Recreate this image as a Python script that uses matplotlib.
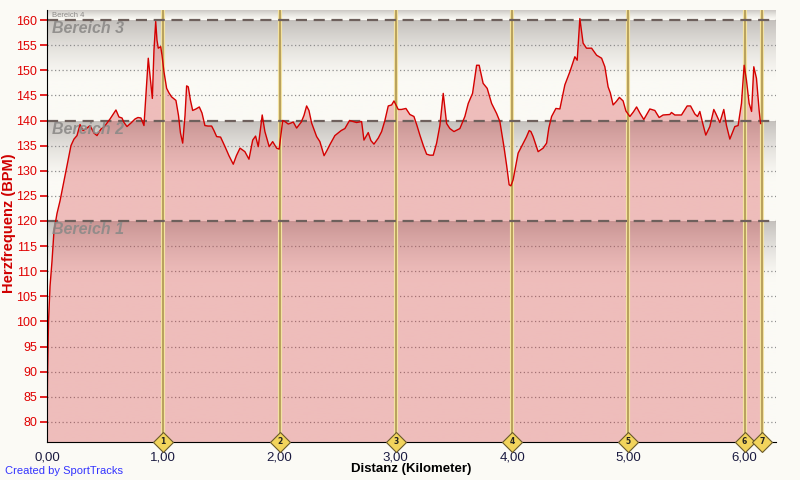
import matplotlib.pyplot as plt
import numpy as np

# Herzfrequenz ueber Distanz
dist = [0.000, 0.004, 0.013, 0.026, 0.043, 0.060, 0.086, 0.112, 0.138, 0.172,
        0.206, 0.232, 0.258, 0.284, 0.310, 0.344, 0.370, 0.404, 0.430, 0.464,
        0.490, 0.542, 0.576, 0.593, 0.619, 0.645, 0.662, 0.688, 0.722, 0.757,
        0.782, 0.808, 0.834, 0.856, 0.871, 0.886, 0.906, 0.920, 0.935, 0.946,
        0.957, 0.978, 0.989, 1.006, 1.029, 1.049, 1.072, 1.109, 1.131, 1.148,
        1.167, 1.187, 1.201, 1.215, 1.234, 1.253, 1.281, 1.310, 1.333, 1.358,
        1.384, 1.416, 1.436, 1.459, 1.493, 1.531, 1.565, 1.602, 1.629, 1.660,
        1.702, 1.737, 1.769, 1.794, 1.817, 1.851, 1.874, 1.911, 1.941, 1.975,
        1.997, 2.027, 2.046, 2.075, 2.098, 2.118, 2.147, 2.187, 2.210, 2.233,
        2.253, 2.276, 2.319, 2.347, 2.383, 2.407, 2.433, 2.476, 2.530, 2.562,
        2.602, 2.631, 2.663, 2.706, 2.726, 2.763, 2.786, 2.812, 2.849, 2.878,
        2.906, 2.935, 2.964, 2.984, 3.021, 3.048, 3.087, 3.121, 3.156, 3.182,
        3.207, 3.237, 3.265, 3.293, 3.322, 3.351, 3.379, 3.408, 3.437, 3.465,
        3.500, 3.551, 3.594, 3.623, 3.660, 3.695, 3.717, 3.751, 3.786, 3.824,
        3.867, 3.895, 3.930, 3.953, 3.975, 3.990, 4.009, 4.052, 4.096, 4.123,
        4.147, 4.162, 4.181, 4.224, 4.267, 4.297, 4.316, 4.340, 4.377, 4.411,
        4.454, 4.497, 4.540, 4.560, 4.583, 4.596, 4.611, 4.640, 4.684, 4.727,
        4.770, 4.798, 4.826, 4.845, 4.869, 4.897, 4.923, 4.955, 4.979, 5.013,
        5.043, 5.071, 5.099, 5.133, 5.185, 5.228, 5.265, 5.299, 5.357, 5.371,
        5.400, 5.457, 5.481, 5.506, 5.535, 5.572, 5.595, 5.615, 5.638, 5.666,
        5.701, 5.735, 5.752, 5.787, 5.821, 5.844, 5.873, 5.916, 5.944, 5.973,
        5.996, 6.016, 6.039, 6.060, 6.079, 6.102, 6.125, 6.137]
bpm = [78, 88, 100, 107, 112, 118, 121.5, 124, 127, 131,
       135, 136.3, 137, 139.2, 138, 138.5, 139, 137.5, 137, 138.3,
       138.7, 140.3, 141.5, 142.1, 140.7, 140.5, 139.6, 138.8, 139.5, 140.3,
       140.6, 140.5, 139, 147, 152.4, 149, 144.4, 154, 159.7, 156,
       154.4, 154.7, 153, 149.7, 146.4, 145.5, 144.7, 144.0, 141, 137.5,
       135.5, 141, 146.9, 146.7, 144, 142, 142.3, 142.7, 141.5, 139,
       138.9, 138.9, 138, 136.8, 136.7, 134.8, 133, 131.3, 133, 134.5,
       133.8, 132.3, 136.1, 136.9, 134.8, 141.1, 137.8, 134.8, 135.8, 134.5,
       134.3, 140, 139.8, 139.3, 139.5, 139.7, 138.5, 139.7, 141, 142.9,
       142, 139.5, 136.8, 135.8, 133, 134, 135.2, 137, 138, 138.4,
       140, 139.8, 139.6, 139.8, 136.1, 137.6, 136, 135.3, 136.5, 137.8,
       140, 142.9, 143.1, 143.9, 142.2, 142.2, 142.4, 141.2, 140.8, 139,
       137.1, 135, 133.3, 133.1, 133.1, 135.5, 139, 145.4, 139.4, 138.4,
       137.8, 138.4, 140.8, 143.4, 145.4, 151, 151, 147.4, 146.4, 143.4,
       141.4, 139.8, 134.8, 131.1, 127.2, 127.0, 128.2, 133.5, 135.5, 136.7,
       138, 137.8, 136.8, 133.8, 134.5, 135.5, 138.5, 140.8, 142.4, 142.3,
       147.1, 149.7, 152.7, 152, 160.3, 158, 155.4, 154.4, 154.4, 153,
       152.4, 150.7, 146.7, 145.5, 143.1, 143.8, 144.6, 143.9, 141.9, 140.8,
       141.7, 142.7, 141.5, 140.2, 142.3, 142, 140.6, 141.1, 141.2, 141.6,
       141.1, 141.1, 142, 142.9, 142.9, 141.3, 140.8, 141.8, 139.6, 137.1,
       138.8, 142.2, 141.4, 139.6, 142.2, 139, 136.3, 138.8, 139, 143.4,
       151, 148, 143.4, 141.8, 150.7, 148.4, 142, 139.4]

laps = [1.0, 2.0, 3.0, 4.0, 5.0, 6.0, 6.15]
zone_names = ['Bereich 1', 'Bereich 2', 'Bereich 3', 'Bereich 4']
zone_bounds = [76, 120, 140, 160, 162]

xmax = 6.27
bg = np.array([251, 250, 245]) / 255.0
gray = np.array([196, 192, 188]) / 255.0

fig = plt.figure(figsize=(8, 4.8), dpi=100, facecolor='#fbfaf5')
ax = fig.add_axes([47/800, 38/480, 729/800, 432/480])
ax.set_facecolor('#fbfaf5')
ax.set_xlim(0, xmax)
ax.set_ylim(76, 162)

# Farbverlauf je Bereich
for i in range(4):
    lo, hi = zone_bounds[i], zone_bounds[i + 1]
    n = 200
    y = np.linspace(hi, lo, n)
    span = 2.0 if i == 3 else 12.0
    t = np.clip((hi - y) / span, 0, 1)
    w = (1 - t) ** 1.4
    img = bg[None, :] + (gray - bg)[None, :] * w[:, None]
    img = img[:, None, :]
    ax.imshow(img, extent=[0, xmax, lo, hi], aspect='auto', zorder=0,
              interpolation='bilinear')

# Hilfslinien
for v in range(80, 161, 5):
    if v in (120, 140, 160):
        continue
    ax.axhline(v, color='#8f8f8f', lw=0.9, ls=(0, (1, 2)), zorder=1)
for v in (120, 140, 160):
    ax.axhline(v, color='#6e605c', lw=1.6, ls=(0, (5, 3)), zorder=4)

ax.fill_between(dist, 0, bpm, color=(211/255, 50/255, 55/255), alpha=0.3,
                lw=0, zorder=2)
ax.plot(dist, bpm, color='#d40000', lw=1.0, zorder=5)

# Runden
for i, lap in enumerate(laps):
    ax.axvline(lap, color='#f3e2a0', lw=3, zorder=3)
    ax.axvline(lap, color='#a88f4a', lw=1.1, zorder=3)
    ax.plot(lap, 76, marker='D', ms=10, mfc='#f2d45c', mec='#6a5a2a',
            mew=0.8, clip_on=False, zorder=10)
    ax.text(lap, 76.1, str(i + 1), fontsize=5.5, ha='center', va='center',
            fontweight='bold', color='#222222', zorder=11, clip_on=False)

# Bereich-Beschriftungen
for i in range(3):
    ax.text(0.04, zone_bounds[i + 1] - 0.2, zone_names[i], fontsize=11.5,
            fontstyle='italic', fontweight='bold', color='#8c8a88',
            family='Liberation Sans', va='top', ha='left', alpha=0.9, zorder=6)
ax.text(0.04, 161.0, zone_names[3], fontsize=5.5, color='#8c8a88',
        family='Liberation Sans', va='center', ha='left', zorder=6)

ax.set_yticks(range(80, 161, 5))
ax.set_yticklabels([str(v) for v in range(80, 161, 5)], color='#e00000',
                   fontsize=9, family='Liberation Sans')
ax.tick_params(axis='y', colors='#e00000', length=5, width=1.2, pad=2)
ax.set_xticks(range(0, 7))
ax.set_xticklabels(['%d,00' % v for v in range(0, 7)], fontsize=9.5,
                   family='Liberation Sans', color='#1a1a40')
ax.tick_params(axis='x', length=0, pad=7)

for s in ('top', 'right'):
    ax.spines[s].set_visible(False)
ax.spines['left'].set_color('black')
ax.spines['bottom'].set_color('black')
ax.spines['left'].set_zorder(12)
ax.spines['bottom'].set_zorder(9)

fig.text(9/800, 1 - 223/480, 'Herzfrequenz (BPM)', color='#d00000',
         fontsize=10.5, fontweight='bold', family='Liberation Sans',
         rotation=90, ha='center', va='center')
fig.text(411/800, 1 - 469/480, 'Distanz (Kilometer)', color='black',
         fontsize=9.5, fontweight='bold', family='Liberation Sans',
         ha='center', va='center')
fig.text(5/800, 1 - 471/480, 'Created by SportTracks', color='#3333ff',
         fontsize=8, family='Liberation Sans', va='center', ha='left')

plt.savefig('out.png', dpi=100, facecolor=fig.get_facecolor())
